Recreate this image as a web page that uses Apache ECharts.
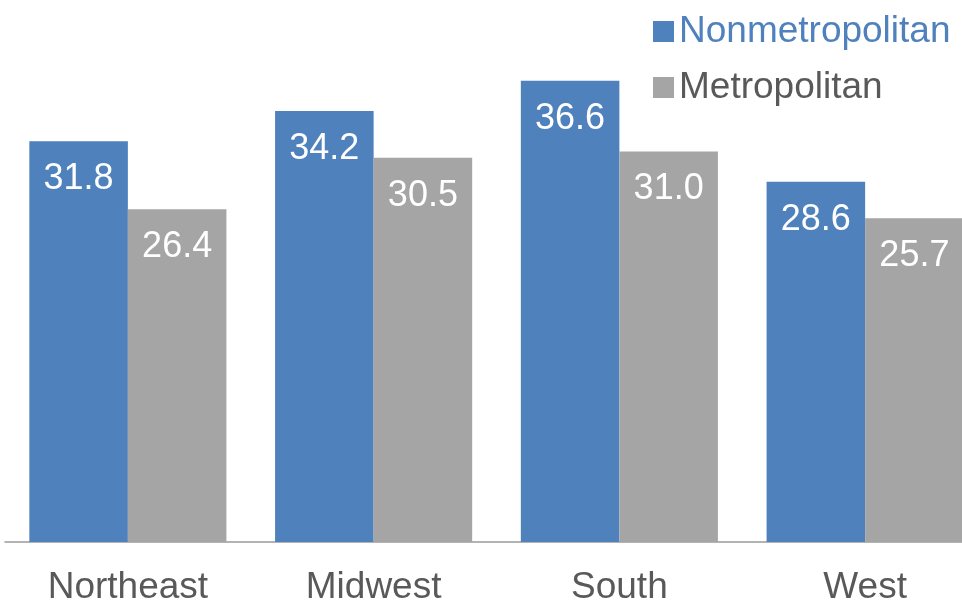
<!DOCTYPE html>
<html>
<head>
<meta charset="utf-8">
<script src="https://cdn.jsdelivr.net/npm/echarts@6/dist/echarts.min.js"></script>
<style>html,body{margin:0;padding:0;background:#fff;overflow:hidden;}#c{width:962px;height:601px;}</style>
</head>
<body>
<div id="c"></div>
<script>
const categories = ['Northeast', 'Midwest', 'South', 'West'];
const nonmetro = [31.8, 34.2, 36.6, 28.6];
const metro = [26.4, 30.5, 31.0, 25.7];
const seriesNames = ['Nonmetropolitan', 'Metropolitan'];

const BLUE = '#4f81bd';
const GRAY = '#a5a5a5';
const FONT = 'Liberation Sans, Arial, sans-serif';

const chart = echarts.init(document.getElementById('c'), null, {renderer: 'canvas'});
const labelCfg = {
  show: true,
  position: 'insideTop',
  distance: 20,
  color: '#ffffff',
  fontSize: 36,
  fontFamily: FONT,
  formatter: p => p.value.toFixed(1)
};
chart.setOption({
  animation: false,
  backgroundColor: '#ffffff',
  grid: {left: 5, width: 983, top: 38, bottom: 59, containLabel: false, outerBoundsMode: 'none'},
  legend: {
    orient: 'vertical',
    left: 653,
    top: 13,
    padding: 0,
    itemWidth: 21,
    itemHeight: 21,
    itemGap: 19,
    itemTextGap: 7,
    icon: 'rect',
    textStyle: {fontSize: 37, fontFamily: FONT},
    data: [
      {name: seriesNames[0], textStyle: {color: BLUE}},
      {name: seriesNames[1], textStyle: {color: '#595959'}}
    ]
  },
  xAxis: {
    type: 'category',
    data: categories,
    axisLine: {show: true, lineStyle: {color: '#9a9a9a', width: 1.5}},
    axisTick: {show: false},
    axisLabel: {color: '#595959', fontSize: 37, fontFamily: FONT, margin: 27}
  },
  yAxis: {
    type: 'value',
    min: 0,
    max: 40,
    show: false,
    splitLine: {show: false}
  },
  series: [
    {name: seriesNames[0], type: 'bar', data: nonmetro, itemStyle: {color: BLUE},
     barGap: '0%', barCategoryGap: '19.8%', label: labelCfg},
    {name: seriesNames[1], type: 'bar', data: metro, itemStyle: {color: GRAY},
     barGap: '0%', barCategoryGap: '19.8%', label: labelCfg}
  ]
});
</script>
</body>
</html>
